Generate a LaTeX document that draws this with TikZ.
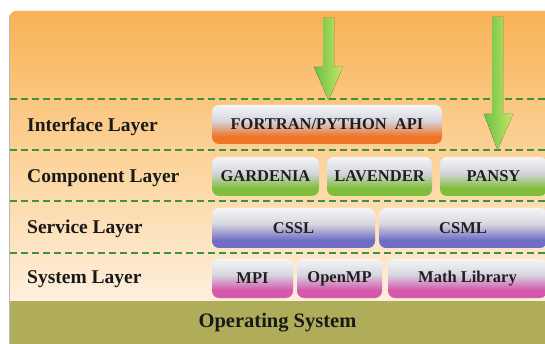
\documentclass[tikz,border=0pt]{standalone}
\usepackage{fontspec}
\setmainfont{Liberation Serif}
\usepackage{xcolor}
\definecolor{paneltop}{RGB}{248,178,86}
\definecolor{panelmid}{RGB}{252,214,160}
\definecolor{panelbot}{RGB}{254,245,234}
\definecolor{osolive}{RGB}{175,173,90}
\definecolor{dashgreen}{RGB}{62,145,62}
\definecolor{arrowgreen}{RGB}{104,192,72}
\definecolor{arrowlime}{RGB}{200,230,100}
\definecolor{boxtop}{RGB}{245,245,247}
\definecolor{boxmid}{RGB}{214,214,224}
\definecolor{apiorange}{RGB}{238,116,40}
\definecolor{compgreen}{RGB}{128,190,60}
\definecolor{servblue}{RGB}{112,110,196}
\definecolor{syspink}{RGB}{212,88,172}
\usepackage{tikz}
\usetikzlibrary{positioning}

\pgfdeclareverticalshading{panelshade}{100bp}{color(0bp)=(panelbot); color(25bp)=(panelbot); color(50bp)=(panelmid); color(75bp)=(paneltop); color(100bp)=(paneltop)}
\newcommand{\layershade}[2]{\pgfdeclareverticalshading{#1}{100bp}{color(0bp)=(#2); color(25bp)=(#2); color(35bp)=(#2); color(55bp)=(boxmid); color(75bp)=(boxtop); color(100bp)=(boxtop)}}
\layershade{apishade}{apiorange}
\layershade{compshade}{compgreen}
\layershade{servshade}{servblue}
\layershade{sysshade}{syspink}

\tikzset{
  layerlabel/.style={anchor=west, inner sep=0pt, text=black!90,
    font=\fontsize{19.5}{21}\selectfont\bfseries},
  modbox/.style={rounded corners=7pt, minimum height=39pt, inner sep=0pt,
    text=black!88, font=\fontsize{16.5}{18}\selectfont\bfseries},
  sepline/.style={dashgreen, line width=2pt, dash pattern=on 7pt off 4pt},
  downarrow/.style={left color=arrowgreen, right color=arrowlime}
}

\begin{document}
\begin{tikzpicture}[x=1pt,y=-1pt]
  \path[use as bounding box, clip] (0,0) rectangle (545,344);

  % Panel
  \fill[white] (0,0) rectangle (545,344);
  \path[shading=panelshade, rounded corners=6pt] (10,11) rectangle (570,330);
  \draw[gray!55, line width=1.2pt] (9.4,15) -- (9.4,344);

  % Operating system
  \node[fill=osolive, minimum width=535pt, minimum height=43pt, inner sep=0pt,
        text=black!90, font=\fontsize{20.5}{22}\selectfont\bfseries]
       (os) at (277.5,322.5) {Operating System};

  % Separators
  \foreach \y in {99,150,201,253}
    \draw[sepline] (10,\y) -- (545,\y);

  % Layer names
  \node[layerlabel] (interface) at (27,127) {Interface Layer};
  \node[layerlabel] (component) at (27,178) {Component Layer};
  \node[layerlabel] (service)   at (27,229) {Service Layer};
  \node[layerlabel] (system)    at (27,279) {System Layer};

  % Interface layer
  \node[modbox, shading=apishade, minimum width=230pt] (api) at (327,124.5)
       {FORTRAN/PYTHON\ \ API};

  % Component layer
  \node[modbox, shading=compshade, minimum width=107pt] (gardenia) at (265.5,176.5) {GARDENIA};
  \node[modbox, shading=compshade, minimum width=105pt] (lavender) at (379.5,176.5) {LAVENDER};
  \node[modbox, shading=compshade, minimum width=107pt] (pansy)    at (493.5,176.5) {PANSY};

  % Service layer
  \node[modbox, shading=servshade, minimum height=40pt, minimum width=163pt] (cssl) at (293.5,228) {CSSL};
  \node[modbox, shading=servshade, minimum height=40pt, minimum width=168pt] (csml) at (463,228) {CSML};

  % System layer
  \node[modbox, shading=sysshade, minimum width=81pt]  (mpi)    at (252.5,278.5) {MPI};
  \node[modbox, shading=sysshade, minimum width=85pt]  (openmp) at (339.5,278.5) {OpenMP};
  \node[modbox, shading=sysshade, minimum width=159pt] (mathlib) at (467.5,278.5) {Math Library};

  % Arrows
  \fill[downarrow] (323,18) -- (334,18) -- (334,67) -- (343,67) -- (328.5,100)
       -- (314,67) -- (323,67) -- cycle;
  \fill[downarrow] (492,17) -- (503,17) -- (503,114) -- (513,114) -- (497.5,150)
       -- (484,114) -- (492,114) -- cycle;
\end{tikzpicture}
\end{document}
